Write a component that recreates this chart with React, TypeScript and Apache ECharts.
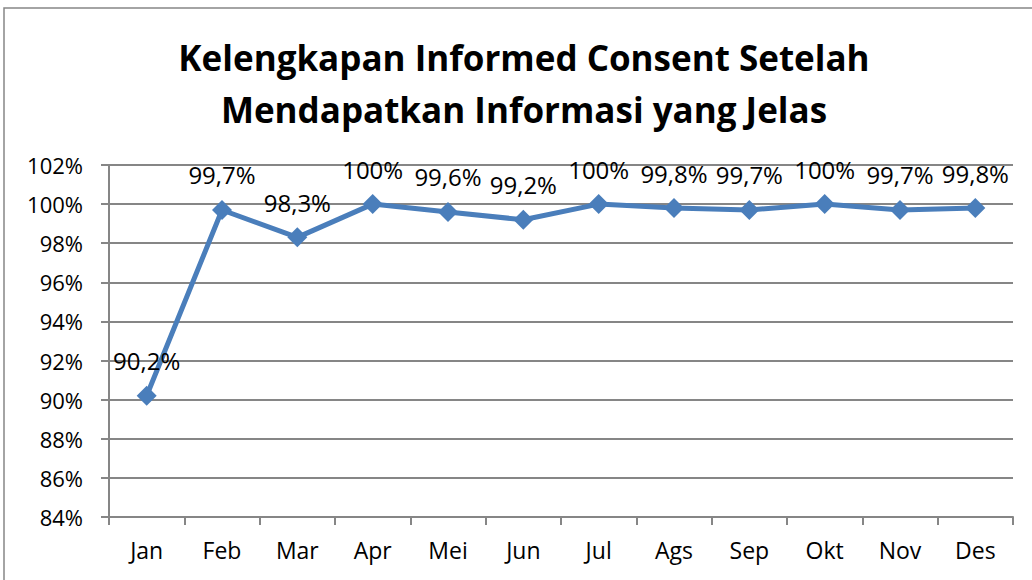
import React, { useEffect, useRef } from "react";
import * as echarts from "echarts";

const categories = ["Jan", "Feb", "Mar", "Apr", "Mei", "Jun", "Jul", "Ags", "Sep", "Okt", "Nov", "Des"];
const values = [90.2, 99.7, 98.3, 100, 99.6, 99.2, 100, 99.8, 99.7, 100, 99.7, 99.8];
const titleLines = ["Kelengkapan Informed Consent Setelah", "Mendapatkan Informasi yang Jelas"];

const FONT = "Open Sans";

export default function App() {
  const ref = useRef<HTMLDivElement>(null);
  useEffect(() => {
    if (!ref.current) return;
    const chart = echarts.init(ref.current, undefined, { renderer: "svg" });
    chart.setOption({
      animation: false,
      backgroundColor: "#ffffff",
      graphic: [
        {
          type: "rect",
          shape: { x: 4, y: 8, width: 1040, height: 590 },
          style: { fill: "none", stroke: "#868686", lineWidth: 1.5 },
          silent: true,
        },
        {
          type: "text",
          x: 524,
          y: 83,
          silent: true,
          style: {
            text: titleLines.join("\n"),
            align: "center",
            verticalAlign: "middle",
            fontFamily: FONT,
            fontWeight: "bold",
            fontSize: 35,
            lineHeight: 52,
            fill: "#000000",
          },
        },
      ],
      grid: { left: 109, right: 19, top: 165, bottom: 63 },
      xAxis: {
        type: "category",
        data: categories,
        boundaryGap: true,
        axisLine: { lineStyle: { color: "#868686", width: 2 } },
        axisTick: { show: true, length: 8, lineStyle: { color: "#868686", width: 2 } },
        axisLabel: { fontFamily: FONT, fontSize: 23, color: "#000", margin: 21 },
      },
      yAxis: {
        type: "value",
        min: 84,
        max: 102,
        interval: 2,
        axisLine: { show: true, lineStyle: { color: "#868686", width: 2 } },
        axisTick: { show: true, length: 8, lineStyle: { color: "#868686", width: 2 } },
        splitLine: { lineStyle: { color: "#868686", width: 2 } },
        axisLabel: {
          fontFamily: FONT,
          fontSize: 22,
          color: "#000",
          margin: 26,
          formatter: (v: number) => v + "%",
        },
      },
      series: [
        {
          type: "line",
          data: values,
          symbol: "diamond",
          symbolSize: 20,
          lineStyle: { color: "#4a7ebb", width: 5 },
          itemStyle: { color: "#4a7ebb" },
          label: {
            show: true,
            position: "top",
            distance: 13,
            fontFamily: FONT,
            fontSize: 24,
            color: "#000",
            formatter: (p: any) => String(p.value).replace(".", ",") + "%",
          },
        },
      ],
    });
    return () => chart.dispose();
  }, []);
  return (
    <div
      ref={ref}
      style={{ position: "fixed", left: 0, top: 0, width: 1032, height: 580 }}
    />
  );
}
